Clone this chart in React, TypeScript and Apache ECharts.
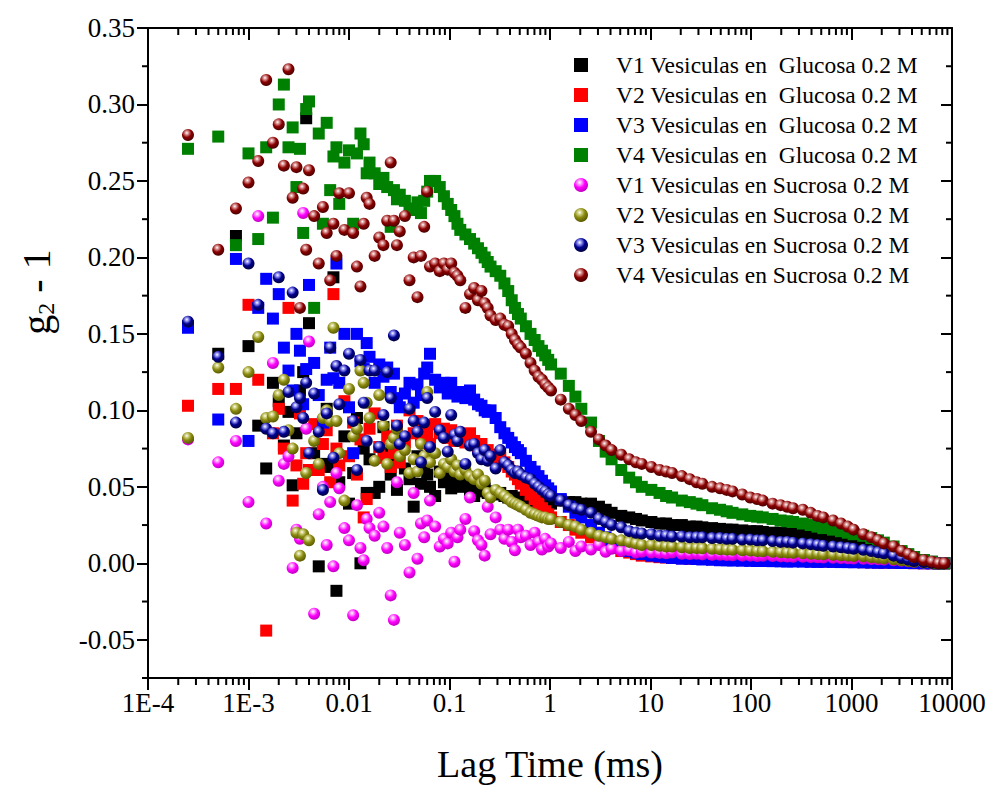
import React, { useEffect, useRef } from 'react';
import * as echarts from 'echarts';

// Lag times (ms), shared by all eight curves
const lagTimes = [
  0.00025, 0.0005, 0.00075, 0.001, 0.00125, 0.0015, 0.00175, 0.002,
  0.00225, 0.0025, 0.00275, 0.003, 0.00325, 0.0035, 0.00375, 0.004,
  0.0045, 0.005, 0.0055, 0.006, 0.0065, 0.007, 0.0075, 0.008,
  0.009, 0.01, 0.011, 0.012, 0.013, 0.014, 0.015, 0.016,
  0.018, 0.02, 0.022, 0.024, 0.026, 0.028, 0.03, 0.032,
  0.036, 0.04, 0.044, 0.048, 0.052, 0.056, 0.06, 0.064,
  0.072, 0.08, 0.088, 0.096, 0.104, 0.112, 0.12, 0.128,
  0.144, 0.16, 0.176, 0.192, 0.208, 0.224, 0.24, 0.256,
  0.288, 0.32, 0.352, 0.384, 0.416, 0.448, 0.48, 0.512,
  0.576, 0.64, 0.704, 0.768, 0.832, 0.896, 0.96, 1.024,
  1.28, 1.54, 1.79, 2.05, 2.56, 3.07, 3.58, 4.1,
  5.12, 6.14, 7.17, 8.19, 10.2, 12.3, 14.3, 16.4,
  20.5, 24.6, 28.7, 32.8, 41, 49.2, 57.3, 65.5,
  81.9, 98.3, 115, 131, 164, 197, 229, 262,
  328, 393, 459, 524, 655, 786, 918, 1049,
  1311, 1573, 1835, 2097, 2621, 3146, 3670, 4194,
  5243, 6291, 7340, 8389,
];

const v1Glucosa = [
  0.155, 0.137, 0.214, 0.142, 0.09, 0.062, 0.118, 0.106,
  0.077, 0.099, 0.051, 0.085, 0.113, 0.125, 0.291, 0.157,
  0.072, -0.002, 0.065, 0.101, 0.063, 0.187, -0.018, 0.053,
  0.083, 0.039, 0.059, 0.095, 0.0, 0.075, 0.046, 0.068,
  0.046, 0.05, 0.089, 0.072, 0.058, 0.066, 0.048, 0.079,
  0.062, 0.055, 0.037, 0.07, 0.052, 0.064, 0.058, 0.05,
  0.044, 0.06, 0.053, 0.057, 0.049, 0.055, 0.052, 0.05,
  0.054, 0.048, 0.044, 0.05, 0.047, 0.049, 0.046, 0.047,
  0.045, 0.046, 0.044, 0.043, 0.044, 0.043, 0.042, 0.042,
  0.042, 0.041, 0.041, 0.04, 0.04, 0.04, 0.039, 0.039,
  0.041, 0.04, 0.04, 0.039, 0.039, 0.037, 0.035, 0.033,
  0.031, 0.03, 0.029, 0.028, 0.027, 0.026, 0.026, 0.025,
  0.025, 0.024, 0.024, 0.0235, 0.023, 0.0225, 0.022, 0.022,
  0.0215, 0.021, 0.021, 0.0205, 0.02, 0.02, 0.0196, 0.0195,
  0.019, 0.0185, 0.018, 0.0175, 0.017, 0.0165, 0.016, 0.015,
  0.014, 0.013, 0.012, 0.011, 0.009, 0.007, 0.005, 0.004,
  0.002, 0.001, 0.0, 0.0,
];

const v2Glucosa = [
  0.103, 0.114, 0.114, 0.169, 0.12, -0.044, 0.085, 0.101,
  0.075, 0.167, 0.041, 0.064, 0.098, 0.052, 0.072, 0.061,
  0.091, 0.061, 0.078, 0.087, 0.053, 0.176, 0.075, 0.064,
  0.106, 0.07, 0.092, 0.058, 0.081, 0.03, 0.042, 0.088,
  0.098, 0.076, 0.069, 0.083, 0.063, 0.072, 0.09, 0.066,
  0.079, 0.1, 0.085, 0.093, 0.082, 0.088, 0.084, 0.078,
  0.091, 0.085, 0.088, 0.082, 0.087, 0.08, 0.084, 0.083,
  0.079, 0.085, 0.08, 0.076, 0.078, 0.072, 0.074, 0.071,
  0.068, 0.069, 0.066, 0.063, 0.06, 0.058, 0.055, 0.052,
  0.048, 0.045, 0.042, 0.039, 0.036, 0.034, 0.032, 0.03,
  0.027, 0.025, 0.022, 0.02, 0.017, 0.014, 0.012, 0.01,
  0.008, 0.007, 0.006, 0.005, 0.0045, 0.004, 0.0038, 0.0035,
  0.0033, 0.003, 0.003, 0.0028, 0.0027, 0.0025, 0.0024, 0.0023,
  0.0022, 0.0021, 0.002, 0.002, 0.0019, 0.0018, 0.0017, 0.0016,
  0.0015, 0.0014, 0.0013, 0.0012, 0.0011, 0.001, 0.0009, 0.0008,
  0.0007, 0.0006, 0.0005, 0.0004, 0.0003, 0.0002, 0.0002, 0.0001,
  0.0, 0.0, 0.0, 0.0,
];

const v3Glucosa = [
  0.154, 0.094, 0.199, 0.08, 0.167, 0.186, 0.16, 0.176,
  0.141, 0.126, 0.113, 0.15, 0.139, 0.104, 0.127, 0.182,
  0.131, 0.11, 0.092, 0.12, 0.141, 0.121, 0.196, 0.118,
  0.15, 0.102, 0.072, 0.15, 0.132, 0.127, 0.144, 0.135,
  0.118, 0.13, 0.122, 0.128, 0.112, 0.124, 0.108, 0.102,
  0.111, 0.118, 0.105, 0.117, 0.11, 0.124, 0.128, 0.137,
  0.12, 0.115, 0.118, 0.111, 0.118, 0.112, 0.109, 0.112,
  0.108, 0.113, 0.107, 0.104, 0.103, 0.1, 0.099, 0.1,
  0.095, 0.089, 0.085, 0.082, 0.079, 0.076, 0.074, 0.072,
  0.067, 0.063, 0.06, 0.057, 0.054, 0.051, 0.049, 0.047,
  0.042, 0.037, 0.033, 0.03, 0.025, 0.02, 0.017, 0.014,
  0.011, 0.008, 0.007, 0.006, 0.005, 0.0045, 0.004, 0.0035,
  0.003, 0.003, 0.0028, 0.0025, 0.0023, 0.002, 0.002, 0.0018,
  0.0017, 0.0016, 0.0015, 0.0015, 0.0014, 0.0013, 0.0012, 0.0012,
  0.0011, 0.001, 0.001, 0.001, 0.0009, 0.0008, 0.0008, 0.0007,
  0.0006, 0.0005, 0.0005, 0.0004, 0.0003, 0.0002, 0.0002, 0.0001,
  0.0, 0.0, 0.0, 0.0,
];

const v4Glucosa = [
  0.271, 0.279, 0.208, 0.268, 0.212, 0.272, 0.226, 0.3,
  0.313, 0.272, 0.285, 0.246, 0.271, 0.216, 0.297, 0.302,
  0.167, 0.281, 0.222, 0.288, 0.244, 0.266, 0.272, 0.235,
  0.262, 0.27, 0.222, 0.268, 0.281, 0.274, 0.255, 0.262,
  0.255, 0.248, 0.252, 0.246, 0.22, 0.244, 0.238, 0.241,
  0.237, 0.232, 0.231, 0.236, 0.229, 0.237, 0.243, 0.25,
  0.25, 0.246, 0.24, 0.235, 0.231, 0.227, 0.222, 0.218,
  0.215, 0.212, 0.209, 0.206, 0.203, 0.2, 0.197, 0.194,
  0.191, 0.188, 0.183, 0.178, 0.172, 0.167, 0.163, 0.16,
  0.155, 0.15, 0.146, 0.142, 0.139, 0.136, 0.133, 0.13,
  0.124, 0.116, 0.109, 0.101, 0.092, 0.08, 0.073, 0.068,
  0.061, 0.056, 0.053, 0.05, 0.048, 0.046, 0.044, 0.043,
  0.041, 0.04, 0.039, 0.038, 0.036, 0.035, 0.034, 0.033,
  0.032, 0.031, 0.0305, 0.03, 0.029, 0.028, 0.0275, 0.027,
  0.026, 0.025, 0.024, 0.023, 0.022, 0.021, 0.02, 0.019,
  0.018, 0.0165, 0.015, 0.0135, 0.011, 0.008, 0.006, 0.004,
  0.002, 0.001, 0.0, 0.0,
];

const v1Sucrosa = [
  0.081, 0.066, 0.08, 0.04, 0.227, 0.026, 0.131, 0.054,
  0.065, 0.07, -0.003, 0.022, 0.016, 0.229, 0.088, 0.145,
  -0.033, 0.032, 0.05, 0.012, 0.04, -0.002, 0.059, 0.049,
  0.023, 0.015, -0.034, 0.038, 0.01, 0.002, 0.029, 0.023,
  0.018, 0.033, 0.024, 0.01, -0.021, -0.037, 0.053, 0.02,
  0.012, -0.006, 0.046, 0.003, 0.026, 0.017, 0.028, 0.041,
  0.024, 0.011, 0.016, 0.013, 0.02, 0.001, 0.017, 0.022,
  0.029, 0.043, 0.021, 0.015, 0.012, 0.005, 0.037, 0.019,
  0.03, 0.022, 0.016, 0.022, 0.014, 0.0085, 0.022, 0.017,
  0.018, 0.012, 0.02, 0.014, 0.009, 0.016, 0.011, 0.013,
  0.01, 0.014, 0.008, 0.011, 0.009, 0.012, 0.0075, 0.0095,
  0.008, 0.0085, 0.007, 0.0075, 0.007, 0.0068, 0.0065, 0.007,
  0.0062, 0.006, 0.0062, 0.0058, 0.0055, 0.0056, 0.0054, 0.0052,
  0.005, 0.005, 0.0048, 0.0049, 0.0047, 0.0045, 0.0044, 0.0043,
  0.0042, 0.004, 0.0039, 0.0038, 0.0036, 0.0034, 0.0033, 0.0031,
  0.003, 0.0028, 0.0026, 0.0024, 0.002, 0.0016, 0.0013, 0.001,
  0.0006, 0.0003, 0.0001, 0.0,
];

const v2Sucrosa = [
  0.082, 0.128, 0.101, 0.125, 0.148, 0.095, 0.096, 0.11,
  0.12, 0.087, 0.075, 0.02, 0.005, 0.019, 0.059, 0.015,
  0.08, 0.065, 0.095, 0.1, 0.093, 0.154, 0.093, 0.072,
  0.041, 0.114, 0.083, 0.088, 0.126, 0.118, 0.105, 0.095,
  0.067, 0.11, 0.09, 0.065, 0.078, 0.082, 0.088, 0.07,
  0.074, 0.059, 0.068, 0.06, 0.078, 0.07, 0.112, 0.066,
  0.072, 0.059, 0.065, 0.063, 0.068, 0.06, 0.064, 0.058,
  0.061, 0.057, 0.055, 0.058, 0.052, 0.054, 0.046, 0.043,
  0.048, 0.046, 0.044, 0.042, 0.04, 0.039, 0.038, 0.037,
  0.035, 0.033, 0.032, 0.031, 0.03, 0.03, 0.029, 0.029,
  0.027, 0.025, 0.024, 0.022, 0.02, 0.018, 0.017, 0.016,
  0.015, 0.014, 0.013, 0.012, 0.012, 0.0115, 0.011, 0.011,
  0.0105, 0.01, 0.01, 0.0098, 0.0095, 0.0092, 0.009, 0.0088,
  0.0085, 0.0083, 0.008, 0.0078, 0.0075, 0.0072, 0.007, 0.0068,
  0.0065, 0.0062, 0.006, 0.0058, 0.0055, 0.0052, 0.005, 0.0048,
  0.0045, 0.004, 0.0036, 0.0032, 0.0026, 0.002, 0.0015, 0.001,
  0.0005, 0.0002, 0.0, 0.0,
];

const v3Sucrosa = [
  0.158, 0.135, 0.092, 0.196, 0.169, 0.088, 0.085, 0.187,
  0.086, 0.112, 0.177, 0.102, 0.108, 0.095, 0.118, 0.072,
  0.111, 0.086, 0.048, 0.098, 0.141, 0.069, 0.129, 0.104,
  0.126, 0.137, 0.093, 0.061, 0.133, 0.105, 0.08, 0.126,
  0.126, 0.076, 0.097, 0.125, 0.108, 0.149, 0.09, 0.078,
  0.083, 0.101, 0.093, 0.086, 0.066, 0.092, 0.108, 0.076,
  0.099, 0.087, 0.082, 0.073, 0.097, 0.084, 0.08, 0.086,
  0.065, 0.077, 0.078, 0.072, 0.068, 0.074, 0.067, 0.07,
  0.062, 0.074, 0.066, 0.064, 0.061, 0.059, 0.06, 0.058,
  0.056, 0.055, 0.052, 0.05, 0.048, 0.047, 0.045, 0.044,
  0.041, 0.038, 0.036, 0.035, 0.033, 0.029, 0.027, 0.025,
  0.0235, 0.021, 0.02, 0.0195, 0.019, 0.018, 0.018, 0.0175,
  0.0175, 0.017, 0.017, 0.017, 0.0165, 0.0165, 0.016, 0.016,
  0.0155, 0.0155, 0.015, 0.015, 0.0145, 0.014, 0.014, 0.0135,
  0.013, 0.0125, 0.012, 0.0115, 0.011, 0.0105, 0.01, 0.0095,
  0.0088, 0.008, 0.0072, 0.0065, 0.005, 0.0035, 0.0025, 0.0015,
  0.0008, 0.0003, 0.0, 0.0,
];

const v4Sucrosa = [
  0.28, 0.205, 0.232, 0.249, 0.263, 0.316, 0.275, 0.287,
  0.26, 0.323, 0.239, 0.259, 0.167, 0.245, 0.205, 0.257,
  0.227, 0.196, 0.233, 0.216, 0.185, 0.222, 0.201, 0.242,
  0.218, 0.242, 0.216, 0.194, 0.181, 0.222, 0.239, 0.235,
  0.201, 0.213, 0.208, 0.224, 0.262, 0.224, 0.208, 0.217,
  0.227, 0.185, 0.2, 0.174, 0.201, 0.22, 0.243, 0.194,
  0.196, 0.191, 0.196, 0.192, 0.196, 0.19, 0.188, 0.185,
  0.167, 0.176, 0.18, 0.172, 0.178, 0.17, 0.167, 0.162,
  0.159, 0.16, 0.156, 0.155, 0.15, 0.146, 0.143, 0.141,
  0.137, 0.131, 0.126, 0.122, 0.12, 0.117, 0.115, 0.113,
  0.107, 0.101, 0.097, 0.093, 0.086, 0.081, 0.077, 0.074,
  0.071, 0.068, 0.066, 0.065, 0.063, 0.061, 0.06, 0.059,
  0.057, 0.055, 0.053, 0.052, 0.05, 0.049, 0.048, 0.047,
  0.045, 0.043, 0.042, 0.041, 0.039, 0.038, 0.037, 0.036,
  0.035, 0.033, 0.031, 0.03, 0.028, 0.026, 0.024, 0.022,
  0.019, 0.017, 0.015, 0.013, 0.011, 0.008, 0.006, 0.004,
  0.002, 0.001, 0.0, 0.0,
];

const seriesNames = [
  'V1 Vesiculas en  Glucosa 0.2 M',
  'V2 Vesiculas en  Glucosa 0.2 M',
  'V3 Vesiculas en  Glucosa 0.2 M',
  'V4 Vesiculas en  Glucosa 0.2 M',
  'V1 Vesiculas en Sucrosa 0.2 M',
  'V2 Vesiculas en Sucrosa 0.2 M',
  'V3 Vesiculas en Sucrosa 0.2 M',
  'V4 Vesiculas en Sucrosa 0.2 M',
];

const xTickLabels = ['1E-4', '1E-3', '0.01', '0.1', '1', '10', '100', '1000', '10000'];
const xMinorMultipliers = [2, 3, 4, 5, 6, 7, 8, 9];
const yMajorTicks = [-0.05, 0, 0.05, 0.1, 0.15, 0.2, 0.25, 0.3, 0.35];
const yMinorTicks = [-0.075, -0.025, 0.025, 0.075, 0.125, 0.175, 0.225, 0.275, 0.325];
const X_MIN = 1e-4;
const X_MAX = 1e4;
const Y_MIN = -0.075;
const Y_MAX = 0.35;

const FONT = '"Liberation Serif", "Times New Roman", Times, serif';

const sphere = (light: string, base: string, dark: string) => ({
  type: 'radial',
  x: 0.4,
  y: 0.32,
  r: 0.68,
  colorStops: [
    { offset: 0, color: '#ffffff' },
    { offset: 0.18, color: light },
    { offset: 0.55, color: base },
    { offset: 1, color: dark },
  ],
});

const SQUARE_ICON = 'path://M0 0H10V10H0Z';

export default function App() {
  const ref = useRef<HTMLDivElement>(null);

  useEffect(() => {
    if (!ref.current) return;
    const chart = echarts.init(ref.current, null, { renderer: 'svg' });

    const valueSets = [v1Glucosa, v2Glucosa, v3Glucosa, v4Glucosa, v1Sucrosa, v2Sucrosa, v3Sucrosa, v4Sucrosa];
    const colors: any[] = [
      '#000000',
      '#ff0000',
      '#0000ff',
      '#008000',
      sphere('#ffb0ff', '#ff00ff', '#c000c0'),
      sphere('#d8d890', '#8a8a10', '#5a5a00'),
      sphere('#a0a0ff', '#000090', '#000040'),
      sphere('#e0a0a0', '#8b0000', '#4a0000'),
    ];
    const isSphere = (i: number) => i >= 4;

    const scatterSeries = seriesNames.map((name, i) => ({
      name,
      type: 'scatter',
      xAxisIndex: 0,
      yAxisIndex: 0,
      symbol: isSphere(i) ? 'circle' : 'rect',
      symbolSize: 12,
      itemStyle: { color: colors[i], opacity: 1 },
      data: lagTimes.map((t, j) => [t, valueSets[i][j]]),
      z: 2,
    }));

    const tickLine = { color: '#000', width: 2 };

    const titleGraphic = {
      id: 'ytitle',
      type: 'text',
      x: 36,
      y: 292,
      rotation: Math.PI / 2,
      style: {
        text: '{a|g}{b|2}{a| - 1}',
        align: 'center',
        verticalAlign: 'middle',
        rich: {
          a: { fontFamily: FONT, fontSize: 40, fill: '#000', lineHeight: 44 },
          b: { fontFamily: FONT, fontSize: 24, fill: '#000', verticalAlign: 'bottom', lineHeight: 24 },
        },
      },
    };

    const option: any = {
      animation: false,
      backgroundColor: '#ffffff',
      grid: { left: 148, right: 38, top: 28, bottom: 110, containLabel: false },
      xAxis: [
        {
          type: 'log',
          logBase: 10,
          min: X_MIN,
          max: X_MAX,
          position: 'bottom',
          axisLine: { show: true, onZero: false, lineStyle: tickLine },
          axisTick: { show: true, inside: false, length: 12, lineStyle: tickLine },
          minorTick: { show: false },
          splitLine: { show: false },
          axisLabel: {
            formatter: (v: number) => xTickLabels[Math.round(Math.log10(v)) + 4],
            fontFamily: FONT,
            fontSize: 27,
            color: '#000',
            margin: 11,
          },
          name: 'Lag Time (ms)',
          nameLocation: 'middle',
          nameGap: 67,
          nameTextStyle: { fontFamily: FONT, fontSize: 38, color: '#000' },
        },
        {
          type: 'log',
          logBase: 10,
          min: X_MIN,
          max: X_MAX,
          position: 'top',
          axisLine: { show: true, onZero: false, lineStyle: tickLine },
          axisTick: { show: true, inside: true, length: 12, lineStyle: tickLine },
          minorTick: { show: false },
          splitLine: { show: false },
          axisLabel: { show: false },
        },
      ],
      yAxis: [
        {
          type: 'value',
          min: Y_MIN,
          max: Y_MAX,
          position: 'left',
          axisLine: { show: true, onZero: false, lineStyle: tickLine },
          axisTick: { show: true, inside: false, length: 11, lineStyle: tickLine, customValues: yMajorTicks },
          splitLine: { show: false },
          axisLabel: {
            customValues: yMajorTicks,
            formatter: (v: number) => v.toFixed(2),
            fontFamily: FONT,
            fontSize: 27,
            color: '#000',
            margin: 13,
          },
        },
        {
          type: 'value',
          min: Y_MIN,
          max: Y_MAX,
          position: 'right',
          axisLine: { show: true, onZero: false, lineStyle: tickLine },
          axisTick: { show: true, inside: true, length: 11, lineStyle: tickLine, customValues: yMajorTicks },
          splitLine: { show: false },
          axisLabel: { show: false },
        },
      ],
      legend: {
        orient: 'vertical',
        left: 574,
        top: 53,
        padding: 0,
        itemWidth: 60,
        itemHeight: 14,
        itemGap: 6,
        selectedMode: false,
        textStyle: { fontFamily: FONT, fontSize: 23.5, color: '#000', lineHeight: 24 },
        data: seriesNames.map((name, i) => ({ name, icon: isSphere(i) ? 'circle' : SQUARE_ICON })),
      },
      graphic: [titleGraphic],
      series: scatterSeries,
    };

    chart.setOption(option);

    // Minor ticks placed through the chart's own coordinate system (same path as the data points)
    const toPx = (x: number, y: number) => chart.convertToPixel({ seriesIndex: 0 }, [x, y]) as number[];
    const tickStyle = { stroke: '#000', lineWidth: 2 };
    const ticks: any[] = [];
    for (let e = -4; e < 4; e++) {
      xMinorMultipliers.forEach((k) => {
        const v = k * Math.pow(10, e);
        const b = toPx(v, Y_MIN);
        const t = toPx(v, Y_MAX);
        if (b && isFinite(b[0]) && isFinite(b[1])) {
          ticks.push({ type: 'line', silent: true, shape: { x1: b[0], y1: b[1], x2: b[0], y2: b[1] + 7 }, style: tickStyle });
        }
        if (t && isFinite(t[0]) && isFinite(t[1])) {
          ticks.push({ type: 'line', silent: true, shape: { x1: t[0], y1: t[1], x2: t[0], y2: t[1] + 7 }, style: tickStyle });
        }
      });
    }
    yMinorTicks.forEach((v) => {
      const l = toPx(X_MIN, v);
      const r = toPx(X_MAX, v);
      ticks.push({ type: 'line', silent: true, shape: { x1: l[0] - 6, y1: l[1], x2: l[0], y2: l[1] }, style: tickStyle });
      ticks.push({ type: 'line', silent: true, shape: { x1: r[0] - 6, y1: r[1], x2: r[0], y2: r[1] }, style: tickStyle });
    });
    chart.setOption({ graphic: [titleGraphic, { id: 'minorTicks', type: 'group', children: ticks }] });

    return () => {
      chart.dispose();
    };
  }, []);

  return (
    <div
      ref={ref}
      style={{ position: 'absolute', left: 0, top: 0, width: 990, height: 788, background: '#fff' }}
    />
  );
}
